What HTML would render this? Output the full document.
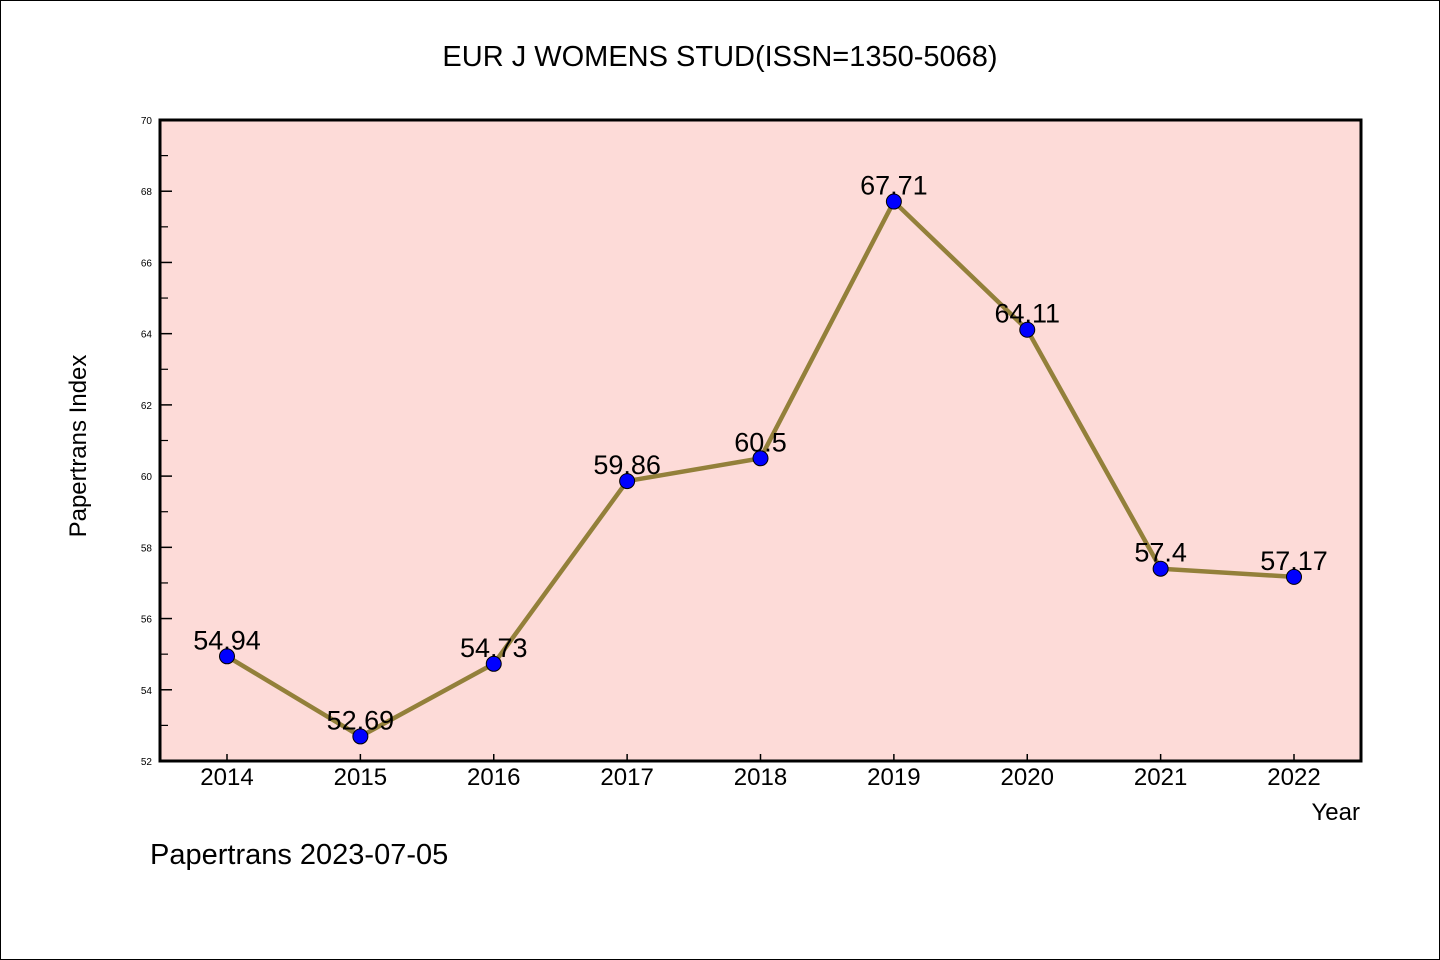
<!DOCTYPE html>
<html><head><meta charset="utf-8"><style>
body{margin:0;background:#fff}
svg{display:block}
text{font-family:"WenQuanYi Zen Hei","Liberation Sans",sans-serif;fill:#000}
</style></head><body>
<svg id="chart" width="1440" height="960" xmlns="http://www.w3.org/2000/svg">
<rect x="0.5" y="0.5" width="1439" height="959" fill="#fff" stroke="#000"/>
<text x="720" y="66" font-size="29" text-anchor="middle">EUR J WOMENS STUD(ISSN=1350-5068)</text>
<rect x="160" y="120" width="1201" height="641" fill="#fddbd8"/>
<g id="axes"></g>
<g id="series"></g>
<rect x="160" y="120" width="1201" height="641" fill="none" stroke="#000" stroke-width="3"/>
<text x="86" y="446" font-size="24" text-anchor="middle" transform="rotate(-90 86 446)">Papertrans Index</text>
<text x="1360" y="820" font-size="24" text-anchor="end">Year</text>
<text x="150" y="864" font-size="29">Papertrans 2023-07-05</text>
</svg>
<script>
const years=[2014,2015,2016,2017,2018,2019,2020,2021,2022];
const values=[54.94,52.69,54.73,59.86,60.5,67.71,64.11,57.4,57.17];
const labels=["54.94","52.69","54.73","59.86","60.5","67.71","64.11","57.4","57.17"];
const yTicks=[52,54,56,58,60,62,64,66,68,70];
const NS="http://www.w3.org/2000/svg";
const X0=160,X1=1361,Y0=761,Y1=120,YMIN=52,YMAX=70;
function xs(i){return 227+i*(1294-227)/(years.length-1);}
function ys(v){return Y0-(v-YMIN)/(YMAX-YMIN)*(Y0-Y1);}
function mk(tag,attrs,parent){const e=document.createElementNS(NS,tag);for(const k in attrs)e.setAttribute(k,attrs[k]);parent.appendChild(e);return e;}
const axes=document.getElementById('axes'),ser=document.getElementById('series');
yTicks.forEach((t,i)=>{
  const y=ys(t);
  const l=mk('line',{x1:X0,x2:X0+12,y1:y,y2:y,stroke:'#000','stroke-width':1.5},axes);
  
  
  const tx=mk('text',{x:X0-8,y:y+4,'font-size':10,'text-anchor':'end'},axes);
  tx.textContent=t;
  
  
  if(i<yTicks.length-1){
    const ym=ys(t+1);
    const m=mk('line',{x1:X0,x2:X0+8,y1:ym,y2:ym,stroke:'#000','stroke-width':1.2},axes);
    
    
  }
});
years.forEach((yr,i)=>{
  const x=xs(i);
  const l=mk('line',{x1:x,x2:x,y1:Y0,y2:Y0-7,stroke:'#000','stroke-width':1.5},axes);
  
  
  const tx=mk('text',{x:x,y:785,'font-size':24,'text-anchor':'middle'},axes);
  tx.textContent=yr;
  
  
});
const pl=mk('polyline',{points:values.map((v,i)=>xs(i)+','+ys(v)).join(' '),fill:'none',stroke:'#93803a','stroke-width':4.5},ser);


values.forEach((v,i)=>{
  const c=mk('circle',{cx:xs(i),cy:ys(v),r:7.5,fill:'#0000ff',stroke:'#000','stroke-width':1},ser);
  
  
  const t=mk('text',{x:xs(i),y:ys(v)-7,'font-size':27,'text-anchor':'middle'},ser);
  t.textContent=labels[i];
  
  
});
</script>
</body></html>
